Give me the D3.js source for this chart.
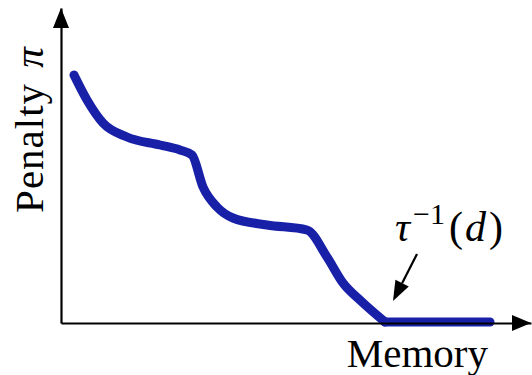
<!DOCTYPE html>
<html>
<head>
<meta charset="utf-8">
<script src="https://cdn.jsdelivr.net/npm/d3@7"></script>
<style>
  html, body { margin: 0; padding: 0; background: #fff; }
  svg { display: block; }
  text { font-family: "Liberation Serif", "DejaVu Serif", serif; fill: #000; }
</style>
</head>
<body>
<svg id="chart" width="532" height="375"></svg>
<script>
// Penalty as a function of memory (arbitrary units)
const memory  = [1.3, 2.6, 4.2, 6.6, 9.9, 11.9, 13.1, 14.2, 15.6, 17.2, 20.6, 24.6, 26.6, 28.2, 30.0, 32.4, 42.9];
const penalty = [24.8, 22.3, 20.0, 18.6, 17.8, 17.3, 16.8, 13.6, 11.6, 10.5, 9.8, 9.3, 6.6, 4.0, 2.2, 0.1, 0.1];
// index of the point where the penalty reaches zero: tau^{-1}(d)
const kneeIndex = 15;

const svg = d3.select("#chart");
const x = d3.scaleLinear().domain([0, 47]).range([61, 531]);
const y = d3.scaleLinear().domain([0, 31.5]).range([323, 8]);

const points = memory.map((m, i) => [m, penalty[i]]);

// smooth descending part, straight flat part after tau^{-1}(d)
const smooth = d3.line().x(d => x(d[0])).y(d => y(d[1])).curve(d3.curveMonotoneX);
const straight = d3.line().x(d => x(d[0])).y(d => y(d[1]));

const pieces = [
  { d: points.slice(0, kneeIndex + 1), gen: smooth },
  { d: points.slice(kneeIndex), gen: straight }
];
svg.selectAll("path.curve")
  .data(pieces)
  .join("path")
  .attr("class", "curve")
  .attr("d", p => p.gen(p.d))
  .attr("fill", "none")
  .attr("stroke", "#1820a8")
  .attr("stroke-width", 9)
  .attr("stroke-linecap", "round")
  .attr("stroke-linejoin", "round");

// axes without ticks, domain lines only
const xAxis = d3.axisBottom(x).tickValues([]).tickSizeOuter(0);
const yAxis = d3.axisLeft(y).tickValues([]).tickSizeOuter(0);

const gx = svg.append("g").attr("transform", `translate(0,${y(0)})`).call(xAxis);
const gy = svg.append("g").attr("transform", `translate(${x(0)},0)`).call(yAxis);
[gx, gy].forEach(g => g.select(".domain").attr("stroke", "#000").attr("stroke-width", 2.2));

// arrowheads on the axes
const [x0, x1] = x.range();
const [y0, y1] = y.range();
svg.append("path")
  .attr("d", `M${x1},${y0} L${x1 - 19},${y0 - 8} L${x1 - 19},${y0 + 8} Z`)
  .attr("fill", "#000");
svg.append("path")
  .attr("d", `M${x0},${y1} L${x0 - 8},${y1 + 20} L${x0 + 8},${y1 + 20} Z`)
  .attr("fill", "#000");

// axis labels
svg.append("text")
  .attr("transform", `translate(43,${(y0 + y1) / 2 - 36}) rotate(-90)`)
  .attr("text-anchor", "middle")
  .attr("font-size", 41)
  .attr("letter-spacing", 1)
  .html('Penalty <tspan font-style="italic" dx="4">π</tspan>');

svg.append("text")
  .attr("x", 488)
  .attr("y", 367)
  .attr("text-anchor", "end")
  .attr("font-size", 41)
  .text("Memory");

// annotation for tau^{-1}(d)
const kx = x(memory[kneeIndex]);
const ky = y(penalty[kneeIndex]);
const tip = [kx + 8, ky - 21];
const tail = [kx + 32, ky - 68];
const ang = Math.atan2(tip[1] - tail[1], tip[0] - tail[0]);
const headLen = 20, headW = 7.5;
const base = [tip[0] - headLen * Math.cos(ang), tip[1] - headLen * Math.sin(ang)];
svg.append("line")
  .attr("x1", tail[0]).attr("y1", tail[1])
  .attr("x2", base[0]).attr("y2", base[1])
  .attr("stroke", "#000").attr("stroke-width", 2.2);
svg.append("path")
  .attr("d", `M${tip[0]},${tip[1]}
    L${base[0] + headW * Math.sin(ang)},${base[1] - headW * Math.cos(ang)}
    L${base[0] - headW * Math.sin(ang)},${base[1] + headW * Math.cos(ang)} Z`)
  .attr("fill", "#000");

const ann = svg.append("text")
  .attr("x", 395)
  .attr("y", 241)
  .attr("font-size", 42);
ann.append("tspan").attr("font-style", "italic").text("τ");
ann.append("tspan").attr("font-size", 30).attr("dy", -17).attr("dx", 3).text("−1");
ann.append("tspan").attr("dy", 17).attr("dx", 4).text("(");
ann.append("tspan").attr("font-style", "italic").attr("dx", 2).text("d");
ann.append("tspan").attr("dx", 3).text(")");
</script>
</body>
</html>
